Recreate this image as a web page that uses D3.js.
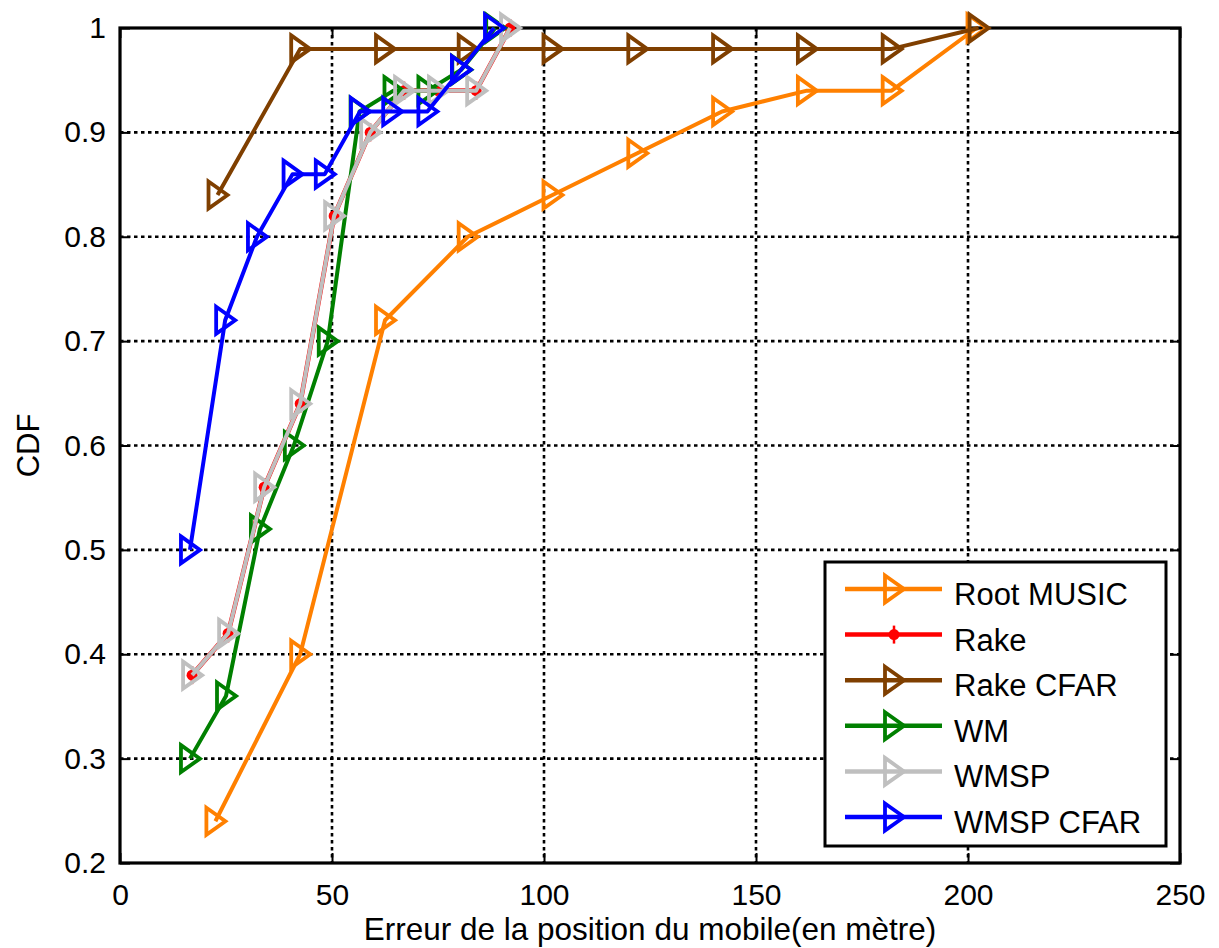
<!DOCTYPE html>
<html>
<head>
<meta charset="utf-8">
<script src="https://d3js.org/d3.v7.min.js"></script>
<style>
  html, body { margin: 0; padding: 0; background: #fff; }
  svg { display: block; font-family: "Liberation Sans", Arial, sans-serif; }
</style>
</head>
<body>
<svg id="chart" width="1219" height="948"></svg>
<script>
// Position error (metres) and CDF values for each localisation method
const rootMusicX = [22.5, 42.5, 62.5, 82, 102, 122, 142, 162, 182, 202];
const rootMusicY = [0.24, 0.40, 0.72, 0.80, 0.84, 0.88, 0.92, 0.94, 0.94, 1.00];

const rakeX = [17, 25.5, 34, 42.5, 50.5, 59, 67, 75, 84, 92];
const rakeY = [0.38, 0.42, 0.56, 0.64, 0.82, 0.90, 0.94, 0.94, 0.94, 1.00];

const rakeCfarX = [23, 42.5, 62.5, 82, 102, 122, 142, 162, 182, 202.5];
const rakeCfarY = [0.84, 0.98, 0.98, 0.98, 0.98, 0.98, 0.98, 0.98, 0.98, 1.00];

const wmX = [16.5, 25, 33, 41, 49, 56.5, 64.5, 72.5, 80.5, 88.5];
const wmY = [0.30, 0.36, 0.52, 0.60, 0.70, 0.92, 0.94, 0.94, 0.96, 1.00];

const wmspX = [17, 25.5, 34, 42.5, 50.5, 59, 67, 75, 84, 92];
const wmspY = [0.38, 0.42, 0.56, 0.64, 0.82, 0.90, 0.94, 0.94, 0.94, 1.00];

const wmspCfarX = [16.5, 24.8, 32.3, 40.7, 48.3, 56.6, 64.2, 72.5, 80.4, 88.2];
const wmspCfarY = [0.50, 0.72, 0.80, 0.86, 0.86, 0.92, 0.92, 0.92, 0.96, 1.00];

const seriesNames = ["Root MUSIC", "Rake", "Rake CFAR", "WM", "WMSP", "WMSP CFAR"];
const seriesColors = ["#ff8000", "#ff0000", "#7f3f00", "#008000", "#bfbfbf", "#0000ff"];
const seriesMarkers = ["tri", "dot", "tri", "tri", "tri", "tri"];

const xTicks = [0, 50, 100, 150, 200, 250];
const yTicks = [0.2, 0.3, 0.4, 0.5, 0.6, 0.7, 0.8, 0.9, 1];

const series = [
  [rootMusicX, rootMusicY],
  [rakeX, rakeY],
  [rakeCfarX, rakeCfarY],
  [wmX, wmY],
  [wmspX, wmspY],
  [wmspCfarX, wmspCfarY]
].map(([xs, ys], i) => ({
  name: seriesNames[i],
  color: seriesColors[i],
  marker: seriesMarkers[i],
  points: xs.map((x, j) => ({ x, y: ys[j] }))
}));

const svg = d3.select("#chart");
const pLeft = 120, pRight = 1180, pTop = 28, pBottom = 863;

const x = d3.scaleLinear().domain([0, 250]).range([pLeft, pRight]);
const y = d3.scaleLinear().domain([0.2, 1]).range([pBottom, pTop]);

// dotted grid
const grid = svg.append("g");
grid.selectAll("line.gx").data(xTicks.slice(1, -1)).join("line")
  .attr("x1", d => x(d)).attr("x2", d => x(d))
  .attr("y1", pTop).attr("y2", pBottom)
  .attr("stroke", "#000").attr("stroke-width", 2.6).attr("stroke-dasharray", "3.5,3.5");
grid.selectAll("line.gy").data(yTicks.slice(1, -1)).join("line")
  .attr("x1", pLeft).attr("x2", pRight)
  .attr("y1", d => y(d)).attr("y2", d => y(d))
  .attr("stroke", "#000").attr("stroke-width", 2.6).attr("stroke-dasharray", "3.5,3.5");

// axes with inward ticks on all four sides
const tickFont = 30;
const axB = svg.append("g").attr("transform", `translate(0,${pBottom})`)
  .call(d3.axisBottom(x).tickValues(xTicks).tickSize(-10).tickPadding(21).tickFormat(d3.format("d")));
const axT = svg.append("g").attr("transform", `translate(0,${pTop})`)
  .call(d3.axisTop(x).tickValues(xTicks).tickSize(-10).tickFormat(""));
const axL = svg.append("g").attr("transform", `translate(${pLeft},0)`)
  .call(d3.axisLeft(y).tickValues(yTicks).tickSize(-10).tickPadding(14).tickFormat(d => d === 1 ? "1" : d3.format(".1f")(d)));
const axR = svg.append("g").attr("transform", `translate(${pRight},0)`)
  .call(d3.axisRight(y).tickValues(yTicks).tickSize(-10).tickFormat(""));
[axB, axT, axL, axR].forEach(a => {
  a.select(".domain").remove();
  a.selectAll(".tick line").attr("stroke", "#000").attr("stroke-width", 2);
  a.selectAll(".tick text").attr("font-size", tickFont).attr("fill", "#000")
    .attr("font-family", "'Liberation Sans', Arial, sans-serif");
});
axB.selectAll(".tick text").attr("dy", "0.71em");

// plot box
svg.append("rect").attr("x", pLeft).attr("y", pTop)
  .attr("width", pRight - pLeft).attr("height", pBottom - pTop)
  .attr("fill", "none").attr("stroke", "#000").attr("stroke-width", 3.2);

// marker shapes
const triPath = "M-9,-13.5 L10,0 L-9,13.5 Z";
function drawMarker(g, kind, color) {
  if (kind === "tri") {
    g.append("path").attr("d", triPath)
      .attr("fill", "none").attr("stroke", color).attr("stroke-width", 3.8)
      .attr("stroke-linejoin", "miter").attr("stroke-miterlimit", 4);
  } else {
    g.append("circle").attr("r", 5.5).attr("fill", color);
    g.append("line").attr("x1", 0).attr("x2", 0).attr("y1", -9).attr("y2", 9)
      .attr("stroke", color).attr("stroke-width", 2.5);
  }
}

const line = d3.line().x(d => x(d.x)).y(d => y(d.y));
const plot = svg.append("g");
series.forEach(s => {
  const g = plot.append("g");
  g.append("path").datum(s.points).attr("d", line)
    .attr("fill", "none").attr("stroke", s.color)
    .attr("stroke-width", s.name === "Rake" ? 4.6 : 4)
    .attr("stroke-linejoin", "round");
  s.points.forEach(p => {
    const m = g.append("g").attr("transform", `translate(${x(p.x)},${y(p.y)})`);
    drawMarker(m, s.marker, s.color);
  });
});

// axis titles
svg.append("text").attr("x", (pLeft + pRight) / 2).attr("y", 940)
  .attr("text-anchor", "middle").attr("font-size", 31.5)
  .text("Erreur de la position du mobile(en mètre)");
svg.append("text").attr("transform", `translate(39,${(pTop + pBottom) / 2}) rotate(-90)`)
  .attr("text-anchor", "middle").attr("font-size", 31)
  .text("CDF");

// legend
const lg = svg.append("g");
lg.append("rect").attr("x", 825).attr("y", 562).attr("width", 341).attr("height", 284)
  .attr("fill", "#fff").attr("stroke", "#000").attr("stroke-width", 3);
series.forEach((s, i) => {
  const ly = 589 + i * 45.6;
  lg.append("line").attr("x1", 845).attr("x2", 942).attr("y1", ly).attr("y2", ly)
    .attr("stroke", s.color).attr("stroke-width", 4.5);
  const m = lg.append("g").attr("transform", `translate(894,${ly})`);
  drawMarker(m, s.marker, s.color);
  lg.append("text").attr("x", 954).attr("y", ly + 16)
    .attr("font-size", 31).attr("fill", "#000").text(s.name);
});
</script>
</body>
</html>
